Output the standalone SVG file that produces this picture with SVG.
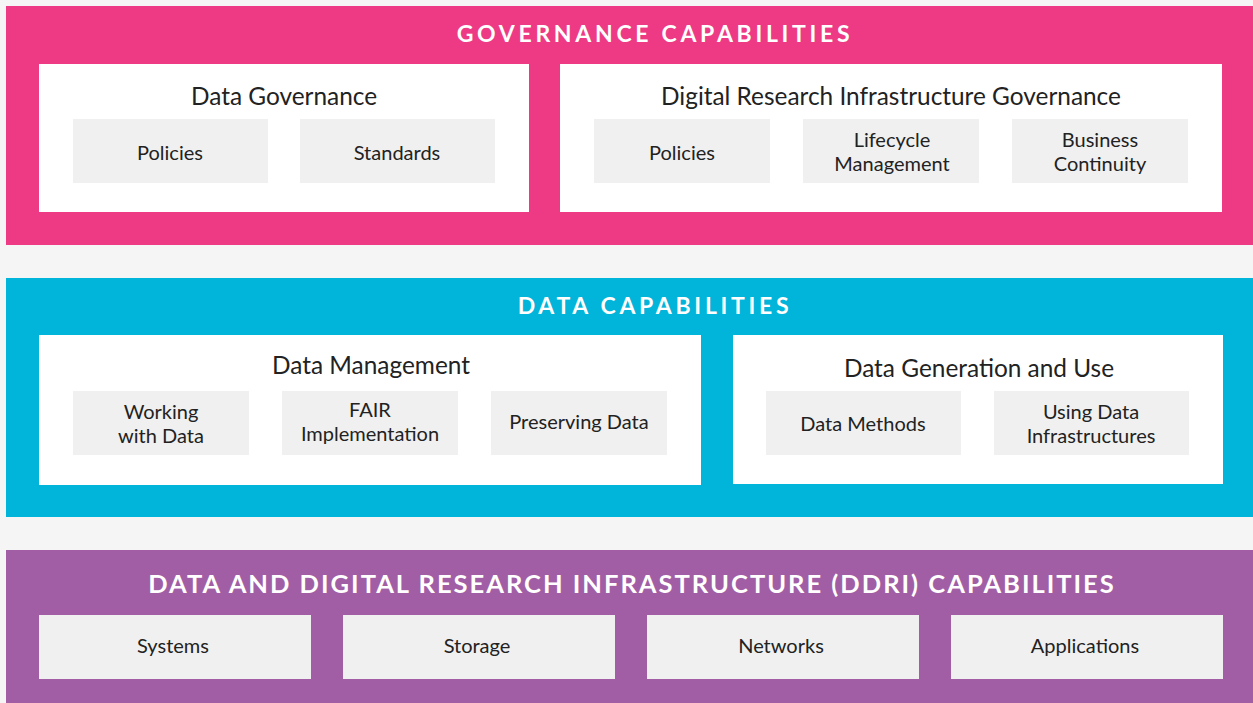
<svg xmlns="http://www.w3.org/2000/svg" width="1253" height="703" viewBox="0 0 1253 703">
<style>
.bg{fill:#f5f5f5}
.band-g{fill:#ee3a84}
.band-d{fill:#00b4da}
.band-i{fill:#a15ea5}
.panel{fill:#ffffff}
.item{fill:#f0f0f0}
.title{font-family:Lato,"Open Sans",sans-serif;font-weight:700;fill:#ffffff;text-anchor:middle;dominant-baseline:central}
.ph{font-family:Lato,"Open Sans",sans-serif;font-size:24.4px;fill:#222222;text-anchor:middle;dominant-baseline:central}
.it{font-family:Lato,"Open Sans",sans-serif;font-size:20px;fill:#222222;text-anchor:middle;dominant-baseline:central}
</style>
<rect class="bg" x="0" y="0" width="1253" height="703"/>

<g id="governance">
<rect class="band-g" x="6" y="6" width="1247" height="239"/>
<text class="title" x="655" y="33" font-size="23" letter-spacing="3.7">GOVERNANCE CAPABILITIES</text>
<g id="data-governance">
<rect class="panel" x="39" y="64" width="490" height="148"/>
<text class="ph" x="284" y="95">Data Governance</text>
<g id="dg-policies"><rect class="item" x="73" y="119" width="195" height="64"/><text class="it" x="170" y="152">Policies</text></g>
<g id="dg-standards"><rect class="item" x="300" y="119" width="195" height="64"/><text class="it" x="397" y="152">Standards</text></g>
</g>
<g id="dri-governance">
<rect class="panel" x="560" y="64" width="662" height="148"/>
<text class="ph" x="891" y="95">Digital Research Infrastructure Governance</text>
<g id="dri-policies"><rect class="item" x="594" y="119" width="176" height="64"/><text class="it" x="682" y="152">Policies</text></g>
<g id="dri-lifecycle"><rect class="item" x="803" y="119" width="176" height="64"/><text class="it" x="892" y="139">Lifecycle</text><text class="it" x="892" y="163">Management</text></g>
<g id="dri-continuity"><rect class="item" x="1012" y="119" width="176" height="64"/><text class="it" x="1100" y="139">Business</text><text class="it" x="1100" y="163">Continuity</text></g>
</g>
</g>

<g id="data">
<rect class="band-d" x="6" y="278" width="1247" height="239"/>
<text class="title" x="655" y="305" font-size="23" letter-spacing="3.7">DATA CAPABILITIES</text>
<g id="data-management">
<rect class="panel" x="39" y="335" width="662" height="150"/>
<text class="ph" x="371" y="364">Data Management</text>
<g id="dm-working"><rect class="item" x="73" y="391" width="176" height="64"/><text class="it" x="161" y="411">Working</text><text class="it" x="161" y="435">with Data</text></g>
<g id="dm-fair"><rect class="item" x="282" y="391" width="176" height="64"/><text class="it" x="370" y="409">FAIR</text><text class="it" x="370" y="433">Implementation</text></g>
<g id="dm-preserving"><rect class="item" x="491" y="391" width="176" height="64"/><text class="it" x="579" y="421">Preserving Data</text></g>
</g>
<g id="data-generation">
<rect class="panel" x="733" y="335" width="490" height="149"/>
<text class="ph" x="979" y="367">Data Generation and Use</text>
<g id="dg-methods"><rect class="item" x="766" y="391" width="195" height="64"/><text class="it" x="863" y="423">Data Methods</text></g>
<g id="dg-infra"><rect class="item" x="994" y="391" width="195" height="64"/><text class="it" x="1091" y="411">Using Data</text><text class="it" x="1091" y="435">Infrastructures</text></g>
</g>
</g>

<g id="ddri">
<rect class="band-i" x="6" y="550" width="1247" height="153"/>
<text class="title" x="632" y="583" font-size="25.5" letter-spacing="2">DATA AND DIGITAL RESEARCH INFRASTRUCTURE (DDRI) CAPABILITIES</text>
<g id="systems"><rect class="item" x="39" y="615" width="272" height="64"/><text class="it" x="173" y="645">Systems</text></g>
<g id="storage"><rect class="item" x="343" y="615" width="272" height="64"/><text class="it" x="477" y="645">Storage</text></g>
<g id="networks"><rect class="item" x="647" y="615" width="272" height="64"/><text class="it" x="781" y="645">Networks</text></g>
<g id="applications"><rect class="item" x="951" y="615" width="272" height="64"/><text class="it" x="1085" y="645">Applications</text></g>
</g>
<g id="connectors"/>
</svg>
